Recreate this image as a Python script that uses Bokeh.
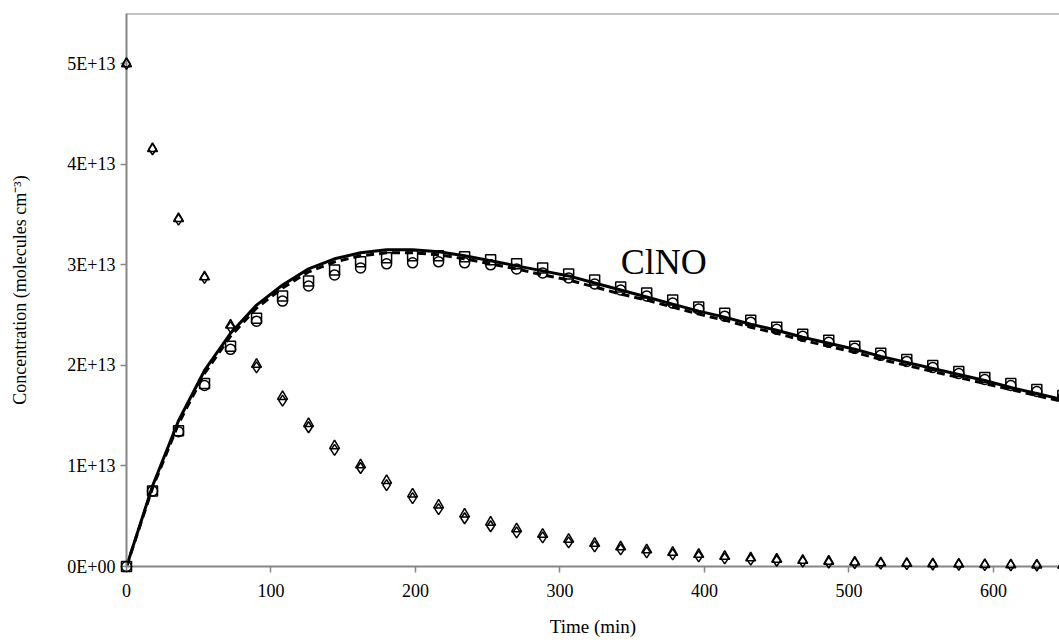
from bokeh.plotting import figure
from bokeh.models import Range1d, FixedTicker, Span, Label
from bokeh.embed import file_html
from bokeh.resources import INLINE

time_min = [0, 18, 36, 54, 72, 90, 108, 126, 144, 162, 180, 198, 216, 234, 252, 270,
            288, 306, 324, 342, 360, 378, 396, 414, 432, 450, 468, 486, 504, 522, 540,
            558, 576, 594, 612, 630, 648]

# decaying reactant (E+13 molecules cm-3)
reactant_tri = [5.0, 4.155, 3.46, 2.88, 2.40, 2.01, 1.69, 1.42, 1.20, 1.01, 0.855, 0.72,
                0.61, 0.52, 0.44, 0.375, 0.32, 0.27, 0.23, 0.195, 0.165, 0.14, 0.12, 0.10,
                0.085, 0.072, 0.061, 0.052, 0.044, 0.037, 0.032, 0.027, 0.023, 0.019,
                0.016, 0.014, 0.012]
reactant_dia = [5.0, 4.15, 3.45, 2.87, 2.38, 1.98, 1.65, 1.385, 1.16, 0.98, 0.81, 0.68,
                0.57, 0.48, 0.40, 0.34, 0.29, 0.24, 0.20, 0.17, 0.14, 0.12, 0.10, 0.08,
                0.068, 0.057, 0.048, 0.04, 0.034, 0.028, 0.024, 0.02, 0.017, 0.014,
                0.012, 0.01, 0.008]

# ClNO (E+13 molecules cm-3)
clno_sq = [0.0, 0.75, 1.35, 1.82, 2.19, 2.47, 2.69, 2.84, 2.95, 3.03, 3.07, 3.09, 3.09,
           3.08, 3.05, 3.01, 2.97, 2.91, 2.85, 2.78, 2.72, 2.65, 2.58, 2.52, 2.45, 2.38,
           2.31, 2.25, 2.19, 2.12, 2.06, 2.00, 1.94, 1.88, 1.82, 1.76, 1.70]
clno_circ = [0.0, 0.75, 1.34, 1.80, 2.16, 2.44, 2.64, 2.79, 2.90, 2.97, 3.01, 3.02, 3.03,
             3.02, 3.00, 2.96, 2.92, 2.87, 2.81, 2.75, 2.69, 2.62, 2.56, 2.49, 2.43, 2.36,
             2.29, 2.23, 2.17, 2.10, 2.04, 1.98, 1.92, 1.86, 1.80, 1.74, 1.68]
model_solid = [0.0, 0.80, 1.45, 1.95, 2.32, 2.60, 2.80, 2.96, 3.06, 3.12, 3.15, 3.15, 3.13,
               3.09, 3.04, 2.99, 2.94, 2.89, 2.82, 2.75, 2.68, 2.61, 2.54, 2.48, 2.41,
               2.35, 2.28, 2.22, 2.16, 2.09, 2.03, 1.97, 1.91, 1.85, 1.78, 1.72, 1.66]
model_dash = [0.0, 0.78, 1.42, 1.92, 2.29, 2.57, 2.77, 2.93, 3.03, 3.09, 3.12, 3.12, 3.10,
              3.06, 3.01, 2.96, 2.90, 2.85, 2.78, 2.71, 2.65, 2.58, 2.51, 2.45, 2.38,
              2.32, 2.25, 2.19, 2.13, 2.06, 2.00, 1.94, 1.88, 1.82, 1.76, 1.70, 1.64]

scale = 1e13
y_ticks = [0, 1e13, 2e13, 3e13, 4e13, 5e13]
y_tick_labels = ["0E+00", "1E+13", "2E+13", "3E+13", "4E+13", "5E+13"]
x_ticks = [0, 100, 200, 300, 400, 500, 600]

FONT = "Liberation Serif"
GRAY = "#868686"

p = figure(frame_width=933, frame_height=553, output_backend="svg", toolbar_location=None,
           x_range=Range1d(0, 645.7), y_range=Range1d(0, 5.5e13),
           min_border_left=126, min_border_right=0, min_border_top=13, min_border_bottom=77)
p.outline_line_color = None
p.grid.visible = False
p.background_fill_color = "white"
p.border_fill_color = "white"

def sc(a):
    return [v * scale for v in a]

p.line(time_min, sc(model_solid), line_color="black", line_width=3)
p.line(time_min, sc(model_dash), line_color="black", line_width=3, line_dash="8 5")

mk = dict(fill_color=None, line_color="black", line_width=1.5, level="overlay")
p.scatter(time_min, sc(reactant_tri), marker="triangle", size=10, **mk)
p.scatter(time_min, sc(reactant_dia), marker="diamond", size=11, **mk)
p.scatter(time_min, sc(clno_sq), marker="square", size=10, **mk)
p.scatter(time_min, sc(clno_circ), marker="circle", size=10, **mk)

p.add_layout(Span(location=5.5e13, dimension="width", line_color=GRAY, line_width=2))

p.add_layout(Label(x=342, y=3.03e13, text="ClNO", text_font=FONT, text_font_size="36px",
                   text_align="left", text_baseline="alphabetic", text_color="black"))

for ax in (p.xaxis[0], p.yaxis[0]):
    ax.axis_line_color = GRAY
    ax.axis_line_width = 2
    ax.major_tick_line_color = GRAY
    ax.major_tick_line_width = 1.5
    ax.major_tick_out = 6
    ax.major_tick_in = 0
    ax.minor_tick_out = 0
    ax.minor_tick_in = 0
    ax.major_label_text_font = FONT
    ax.major_label_text_font_size = "18px"
    ax.major_label_text_color = "black"
    ax.axis_label_text_font = FONT
    ax.axis_label_text_font_style = "normal"
    ax.axis_label_text_color = "black"

p.xaxis[0].ticker = FixedTicker(ticks=x_ticks)
p.xaxis[0].axis_label = "Time (min)"
p.xaxis[0].axis_label_text_font_size = "19px"
p.xaxis[0].major_label_standoff = 11
p.xaxis[0].axis_label_standoff = 16

p.yaxis[0].ticker = FixedTicker(ticks=y_ticks)
p.yaxis[0].major_label_overrides = {t: l for t, l in zip(y_ticks, y_tick_labels)}
p.yaxis[0].axis_label = "Concentration (molecules cm\u207b\u00b3)"
p.yaxis[0].axis_label_text_font_size = "18px"
p.yaxis[0].major_label_standoff = 5
p.yaxis[0].axis_label_standoff = 34

open("out.html", "w").write(file_html(p, INLINE))
